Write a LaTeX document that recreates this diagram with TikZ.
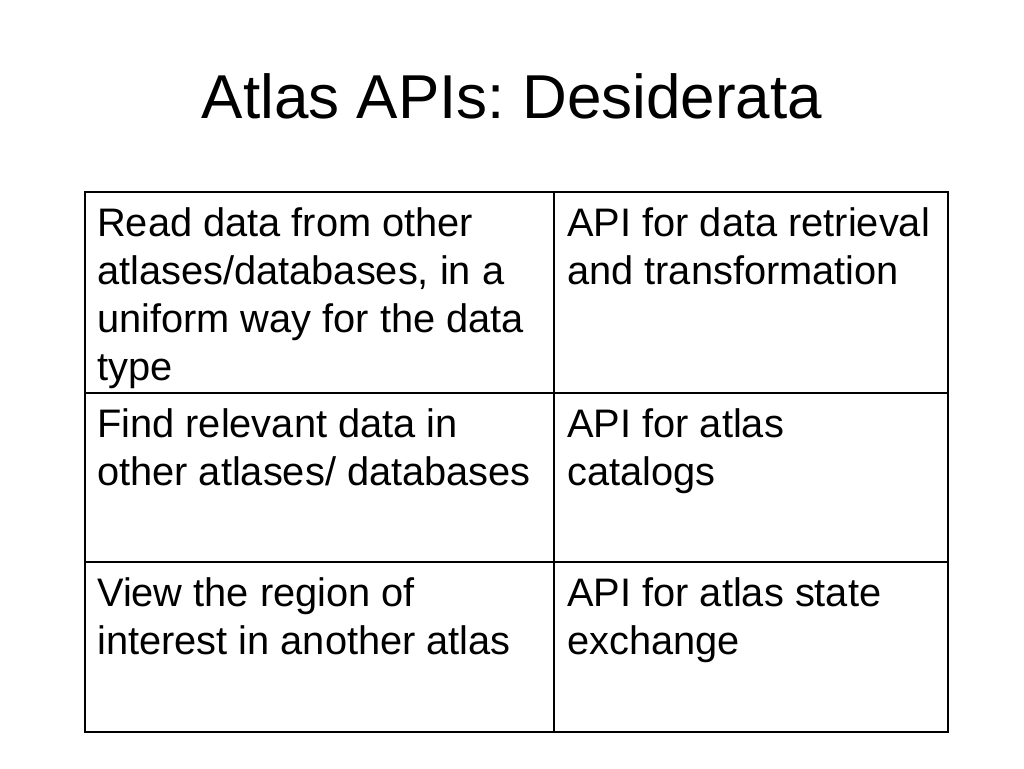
\documentclass[tikz,border=0pt]{standalone}
\usepackage{fontspec}
\setmainfont{Liberation Sans}
\usepackage{tikz}
\frenchspacing
\tikzset{cell/.style={anchor=north west,inner sep=0pt,align=left,font=\fontsize{39.8}{47.8}\selectfont}}

\begin{document}
\begin{tikzpicture}[x=1pt,y=-1pt]
\useasboundingbox (0,0) rectangle (1024,768);
\node[anchor=base,inner sep=0pt,font=\fontsize{62}{75}\selectfont] (title) at (512,118) {Atlas APIs: Desiderata};
\draw[line width=2pt]  (85,192) rectangle (948,732);
\draw[line width=1.5pt]  (554,192) -- (554,732);
\draw[line width=1.5pt]  (85,393) -- (948,393);
\draw[line width=1.5pt]  (85,562) -- (948,562);
\node[cell] (read) at (97,203) {\strut Read data from other\\atlases/databases, in a\\uniform way for the data\\type};
\node[cell] (retrieval) at (567,203) {\strut API for data retrieval\\and transformation};
\node[cell] (find) at (97,404) {\strut Find relevant data in\\other atlases/ databases};
\node[cell] (catalogs) at (567,404) {\strut API for atlas\\catalogs};
\node[cell] (view) at (97,573) {\strut View the region of\\interest in another atlas};
\node[cell] (state) at (567,573) {\strut API for atlas state\\exchange};
\end{tikzpicture}
\end{document}
